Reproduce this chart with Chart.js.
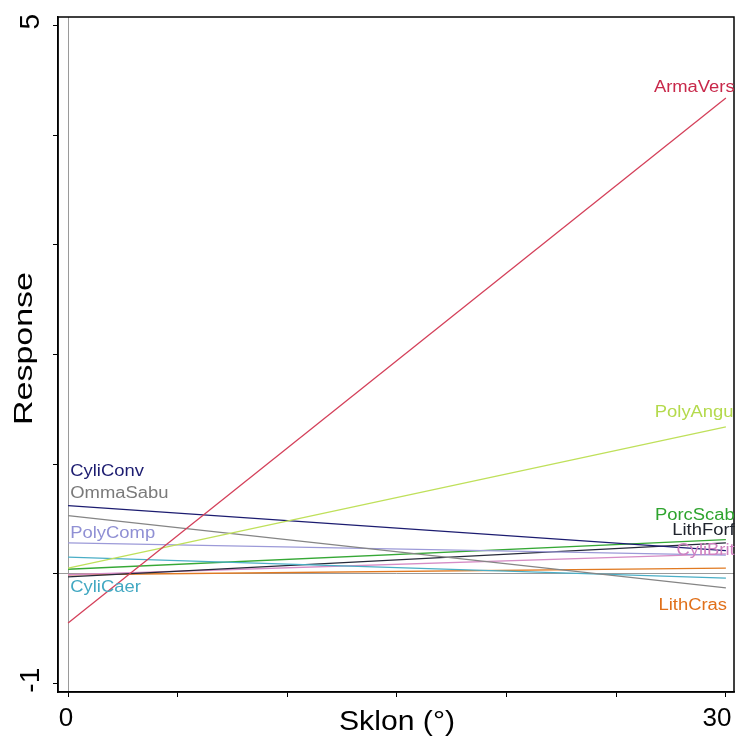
<!DOCTYPE html>
<html>
<head>
    <title>Response vs Sklon</title>
    <script src="https://cdn.jsdelivr.net/npm/chart.js"></script>
    <style>
        body { margin: 0; background: #fff; }
        canvas { display: block; }
    </style>
</head>
<body>
    <canvas id="responseChart" width="736" height="740"></canvas>

    <script>
        // species fitted along the slope gradient (value at 0 and at 30 degrees)
        const species = ['ArmaVers', 'PolyAngu', 'CyliConv', 'OmmaSabu', 'PolyComp',
                         'CyliCaer', 'PorcScab', 'LithForf', 'CyliBrit', 'LithCras'];
        const slopeValues = [0, 30];
        const responseAt0 = [-0.45, 0.05, 0.62, 0.53, 0.28, 0.15, 0.04, -0.03, -0.01, -0.01];
        const responseAt30 = [4.34, 1.34, 0.21, -0.13, 0.17, -0.04, 0.31, 0.28, 0.18, 0.05];

        const xTickValues = [0, 30];
        const xTickLabels = ['0', '30'];
        const yTickValues = [5, -1];
        const yTickLabels = ['5', '-1'];

        const colors = ['#d4405a', '#bfe05a', '#1c1c70', '#858585', '#9c9ad8',
                        '#4aaec6', '#36a836', '#262a3a', '#d68cc6', '#e07a22'];
        const labelColors = ['#c8284a', '#b4da4c', '#1c1c70', '#7a7a7a', '#9090d4',
                             '#42a8c2', '#2ea42e', '#20242e', '#d080c0', '#e0701a'];

        // where each species name sits, in data units [x, y, align]
        const labelSpots = [
            [30.4, 4.44, 'right'], [30.35, 1.47, 'right'], [0.1, 0.93, 'left'],
            [0.1, 0.735, 'left'], [0.1, 0.37, 'left'], [0.1, -0.13, 'left'],
            [30.4, 0.53, 'right'], [30.4, 0.39, 'right'], [30.4, 0.215, 'right'],
            [30.05, -0.29, 'right']
        ];

        const datasets = species.map(function(name, i) {
            return {
                label: name,
                data: slopeValues.map(function(x, j) {
                    return { x: x, y: j === 0 ? responseAt0[i] : responseAt30[i] };
                }),
                borderColor: colors[i],
                backgroundColor: colors[i],
                borderWidth: 1.3,
                pointRadius: 0,
                fill: false
            };
        });

        // draws text, optionally rotated and stretched to a given length
        function putText(ctx, text, x, y, opts) {
            ctx.save();
            ctx.translate(x, y);
            if (opts.rotate) ctx.rotate(opts.rotate);
            ctx.font = opts.font;
            let sx = opts.stretch || 1;
            if (opts.width) sx = opts.width / ctx.measureText(text).width;
            ctx.scale(sx, 1);
            ctx.fillStyle = opts.color || '#000';
            ctx.textAlign = opts.align || 'center';
            ctx.textBaseline = 'middle';
            ctx.fillText(text, 0, 0);
            ctx.restore();
        }

        const textPlugin = {
            id: 'textPlugin',
            afterDraw: function(chart) {
                const ctx = chart.ctx;
                const area = chart.chartArea;
                const xs = chart.scales.x;
                const ys = chart.scales.y;

                ctx.save();
                ctx.strokeStyle = '#000';
                ctx.lineWidth = 1.5;
                ctx.strokeRect(area.left, area.top, area.right - area.left, area.bottom - area.top);
                ctx.restore();

                species.forEach(function(name, i) {
                    const spot = labelSpots[i];
                    putText(ctx, name, xs.getPixelForValue(spot[0]), ys.getPixelForValue(spot[1]), {
                        font: '16px "Liberation Sans", Arial, sans-serif',
                        color: labelColors[i],
                        align: spot[2],
                        stretch: 1.15
                    });
                });

                xTickValues.forEach(function(v, i) {
                    putText(ctx, xTickLabels[i], xs.getPixelForValue(v) - (i === 0 ? 2 : 9), area.bottom + 27, {
                        font: '26px "Liberation Sans", Arial, sans-serif'
                    });
                });
                yTickValues.forEach(function(v, i) {
                    putText(ctx, yTickLabels[i], area.left - 27, ys.getPixelForValue(v) - (i === 0 ? 4 : 3), {
                        font: '28px "Liberation Sans", Arial, sans-serif',
                        rotate: -Math.PI / 2
                    });
                });

                putText(ctx, 'Sklon (°)', xs.getPixelForValue(15), area.bottom + 31, {
                    font: '27px "Liberation Sans", Arial, sans-serif',
                    width: 116
                });
                putText(ctx, 'Response', 25, (area.top + area.bottom) / 2 - 6, {
                    font: '25px "Liberation Sans", Arial, sans-serif',
                    rotate: -Math.PI / 2,
                    width: 153
                });
            }
        };

        function refLineColor(ctx) {
            return ctx.tick && ctx.tick.value === 0 ? '#9a9a9a' : 'rgba(0,0,0,0)';
        }

        new Chart(document.getElementById('responseChart'), {
            type: 'line',
            data: { datasets: datasets },
            options: {
                responsive: false,
                animation: false,
                layout: { padding: { left: 53, top: 17, right: 2, bottom: 43 } },
                plugins: {
                    legend: { display: false },
                    tooltip: { enabled: false }
                },
                scales: {
                    x: {
                        type: 'linear',
                        min: -0.46,
                        max: 30.37,
                        ticks: { display: false, stepSize: 5, includeBounds: false },
                        grid: { color: refLineColor, tickColor: '#000', tickLength: 5, lineWidth: 1 },
                        border: { display: true, color: '#000', width: 1.5 }
                    },
                    y: {
                        type: 'linear',
                        min: -1.08,
                        max: 5.08,
                        ticks: { display: false, stepSize: 1, includeBounds: false },
                        grid: { color: refLineColor, tickColor: '#000', tickLength: 5, lineWidth: 1 },
                        border: { display: true, color: '#000', width: 1.5 }
                    }
                }
            },
            plugins: [textPlugin]
        });
    </script>
</body>
</html>
